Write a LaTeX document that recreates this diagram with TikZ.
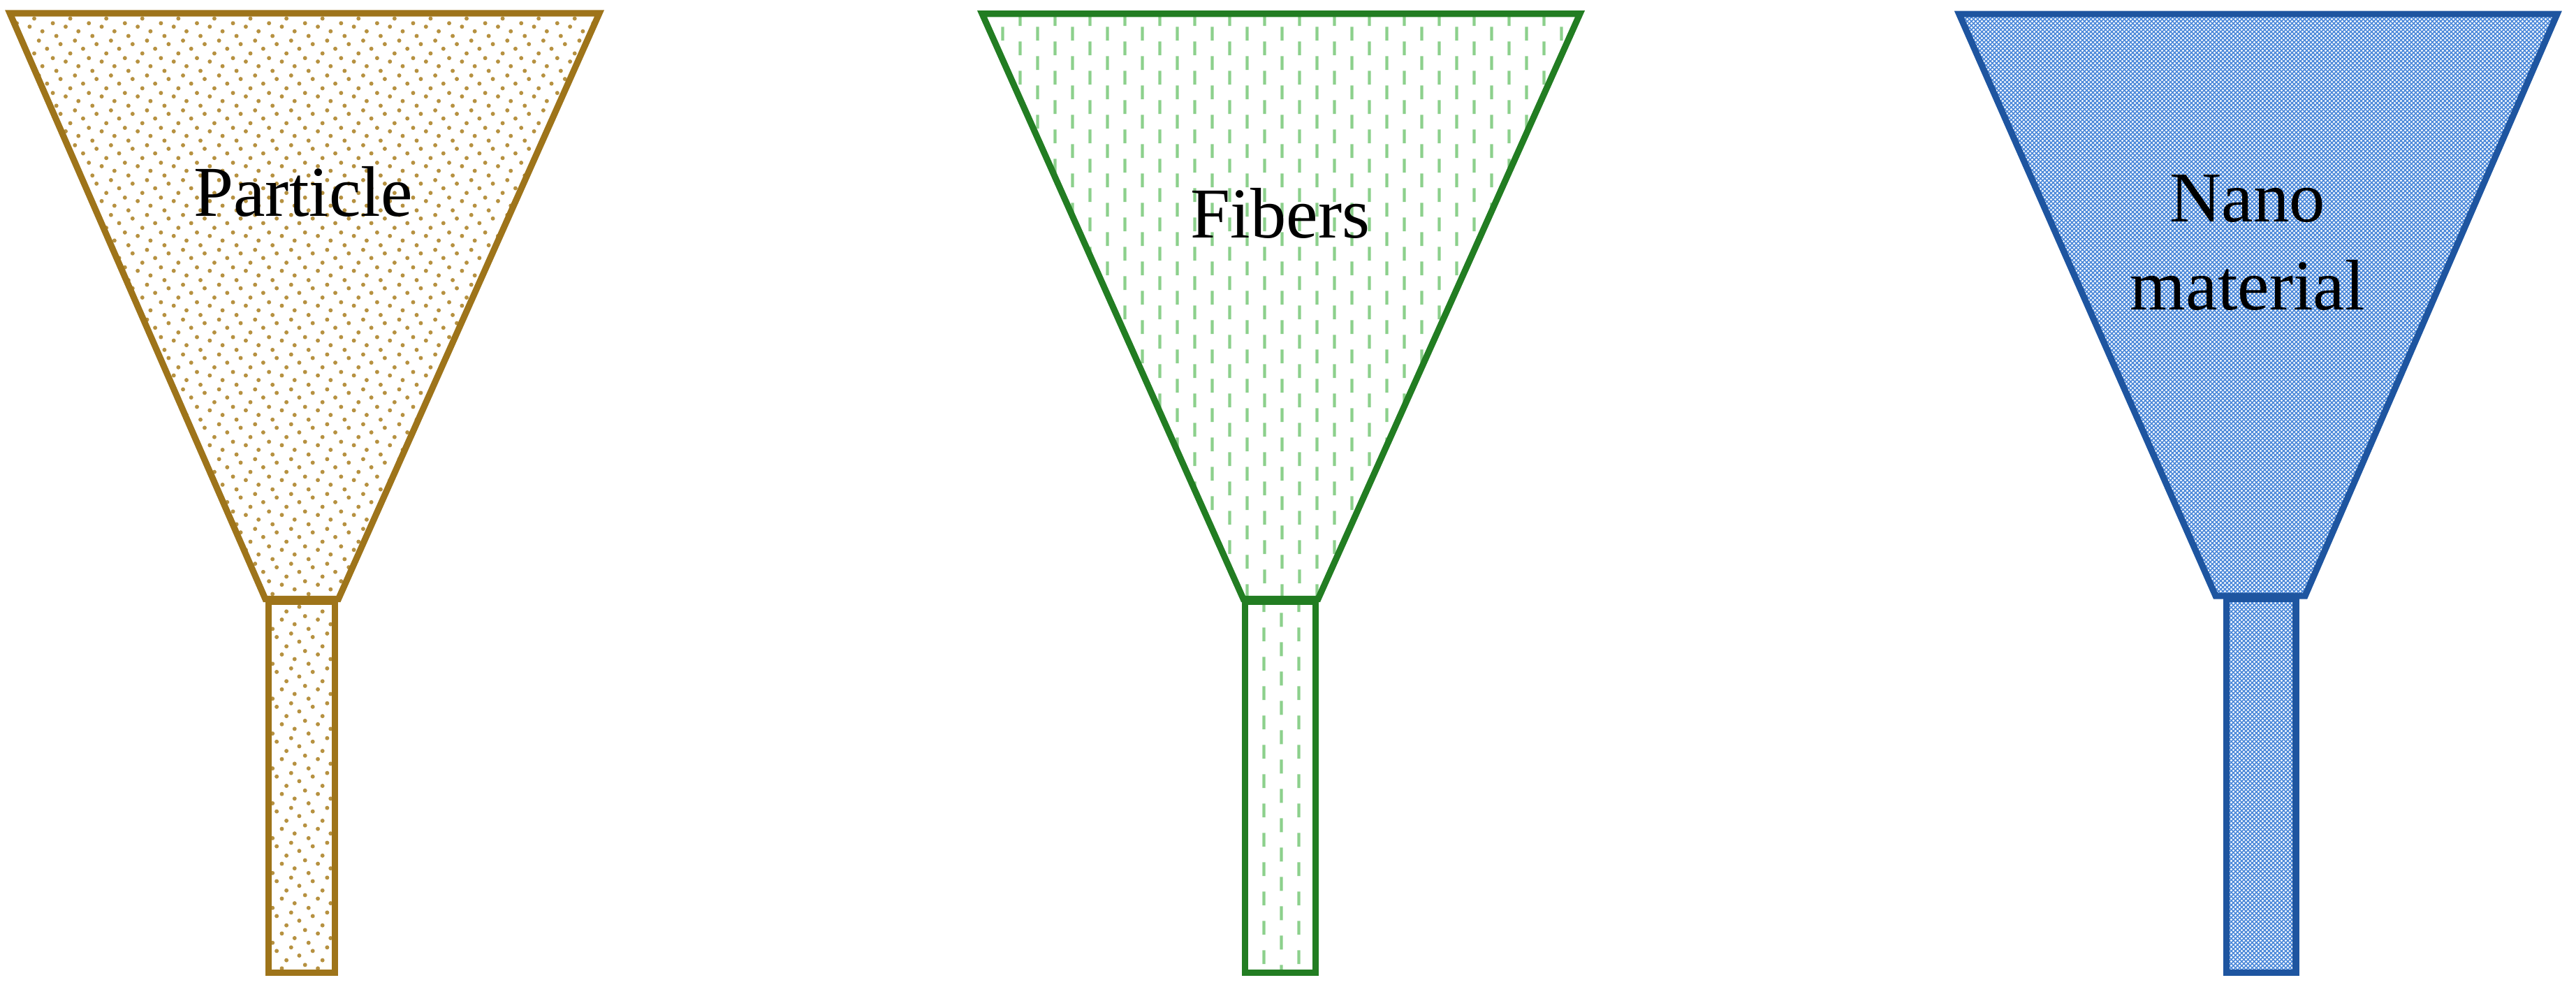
\documentclass[tikz,border=0pt]{standalone}
\usepackage{fontspec}
\setmainfont{Liberation Serif}
\usetikzlibrary{patterns.meta}

\definecolor{partline}{RGB}{158,116,26}
\definecolor{partdot}{RGB}{182,145,64}
\definecolor{fibline}{RGB}{34,125,34}
\definecolor{fibdash}{RGB}{140,208,140}
\definecolor{nanoline}{RGB}{30,85,160}
\definecolor{nanofill}{RGB}{78,138,218}

\tikzdeclarepattern{
  name=grains,
  type=uncolored,
  bounding box={(0pt,0pt) and (6.9pt,6.7pt)},
  tile size={(6.24pt,6.04pt)},
  code={
    \foreach \px/\py in {1.91/0.5, 0.5/1.91, 3.52/2.71, 1.1/3.52, 5.13/4.32, 2.91/4.92, 5.93/5.73, 4.24/1.3}
      \fill (\px pt,\py pt) circle (0.36pt);
  }
}
\tikzdeclarepattern{
  name=fibres,
  type=uncolored,
  bounding box={(0pt,0pt) and (6.04pt,5.07pt)},
  tile size={(6.04pt,5.07pt)},
  code={
    \fill (1.25pt,0.1pt) rectangle (1.77pt,2.51pt);
    \fill (4.27pt,2.635pt) rectangle (4.79pt,5.045pt);
  }
}
\tikzdeclarepattern{
  name=nanomesh,
  type=uncolored,
  bounding box={(0pt,0pt) and (0.72pt,0.72pt)},
  tile size={(0.72pt,0.72pt)},
  code={
    \fill (0.18pt,0.18pt) circle (0.2pt);
    \fill (0.54pt,0.54pt) circle (0.2pt);
  }
}

\begin{document}
\begin{tikzpicture}[
    partfunnel/.style={draw=partline, line width=1.1pt, pattern=grains, pattern color=partdot},
    fibfunnel/.style={draw=fibline, line width=1.1pt, pattern=fibres, pattern color=fibdash},
    nanofunnel/.style={draw=nanoline, line width=1.1pt, preaction={fill=nanofill}, pattern=nanomesh, pattern color=white},
    lbl/.style={inner sep=0pt, font=\fontsize{12.4}{15.2}\selectfont}]
\useasboundingbox (0,0) rectangle (15.68,6.046);

% particle
\draw[partfunnel] (0.06,5.965) -- (3.648,5.965) -- (2.06,2.40) -- (1.615,2.40) -- cycle;
\draw[partfunnel] (1.635,0.125) rectangle (2.04,2.383);
\node[lbl, anchor=base] (particle) at (1.845,4.732) {Particle};

% fibers
\draw[fibfunnel] (5.978,5.962) -- (9.617,5.962) -- (8.023,2.40) -- (7.568,2.40) -- cycle;
\draw[fibfunnel] (7.577,0.125) rectangle (8.006,2.383);
\node[lbl, anchor=base] (fibers) at (7.793,4.60) {Fibers};

% nano material
\draw[nanofunnel] (11.925,5.96) -- (15.565,5.96) -- (14.031,2.419) -- (13.486,2.419) -- cycle;
\draw[nanofunnel] (13.55,0.125) rectangle (13.975,2.40);
\node[lbl, align=center] (nano) at (13.68,4.57) {Nano\\material};

\end{tikzpicture}
\end{document}
